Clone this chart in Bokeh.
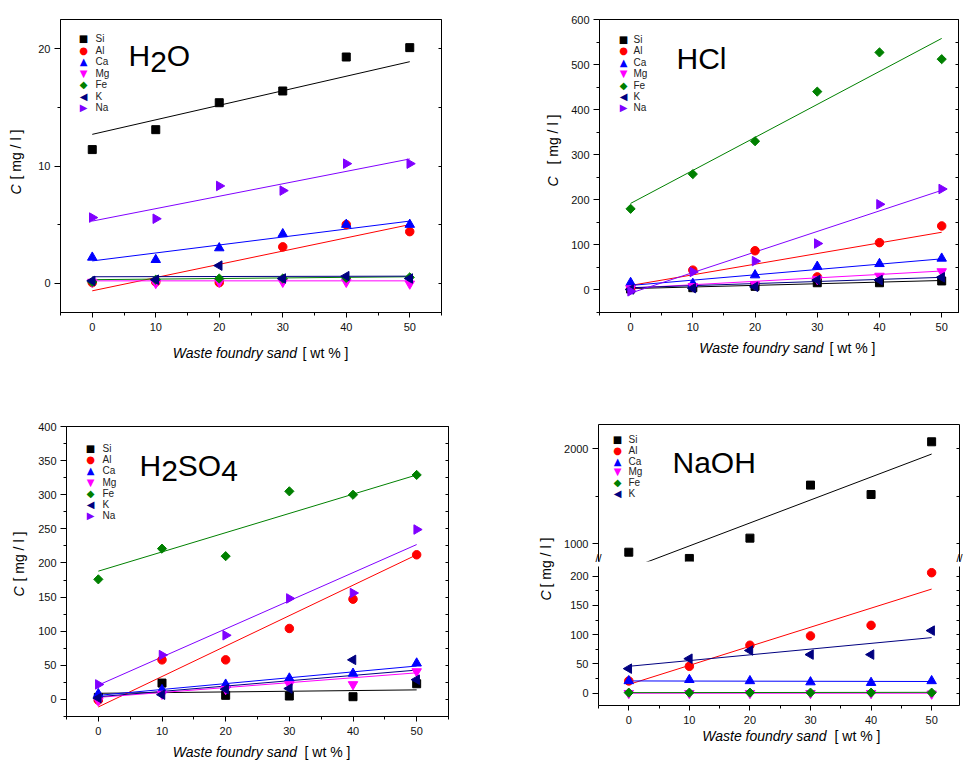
import numpy as np
from bokeh.plotting import figure
from bokeh.models import FixedTicker, LinearAxis, Range1d, Label
from bokeh.layouts import row, column
from bokeh.embed import file_html
from bokeh.resources import INLINE

FONT = "Liberation Sans"

# ---------------- data ----------------
wfs = [0, 10, 20, 30, 40, 50]          # Waste foundry sand [wt %]
fit_x = [0, 50]                         # x of the fitted lines' end points
elements = ["Si", "Al", "Ca", "Mg", "Fe", "K", "Na"]

x_ticks = [0, 10, 20, 30, 40, 50]
x_minor = [-5, 5, 15, 25, 35, 45, 55]

# H2O leachate [mg/l]
h2o = {
    "Si": [11.4, 13.1, 15.4, 16.4, 19.3, 20.1],
    "Al": [0.05, 0.1, 0.05, 3.1, 5.0, 4.4],
    "Ca": [2.2, 2.0, 3.0, 4.2, 5.0, 5.0],
    "Mg": [0.1, 0.0, 0.1, 0.1, 0.1, -0.05],
    "Fe": [0.1, 0.3, 0.4, 0.4, 0.45, 0.5],
    "K":  [0.2, 0.3, 1.5, 0.4, 0.6, 0.4],
    "Na": [5.6, 5.5, 8.3, 7.9, 10.2, 10.2],
}
h2o_fit = {
    "Si": [12.7, 18.9], "Al": [-0.65, 5.0], "Ca": [1.9, 5.3], "Mg": [0.2, 0.2],
    "Fe": [0.3, 0.55], "K": [0.55, 0.6], "Na": [5.3, 10.6],
}
h2o_yticks = [0, 10, 20]
h2o_yminor = [5, 15]

# HCl leachate [mg/l]
hcl = {
    "Si": [2, 5, 8, 16, 16, 20],
    "Al": [4, 44, 87, 29, 105, 142],
    "Ca": [16, 14, 33, 52, 58, 70],
    "Mg": [3, 8, 12, 24, 31, 41],
    "Fe": [180, 257, 330, 440, 527, 512],
    "K":  [1, 4, 7, 22, 22, 28],
    "Na": [-3, 40, 64, 103, 190, 224],
}
hcl_fit = {
    "Si": [3, 21], "Al": [10, 128], "Ca": [10, 69], "Mg": [4, 42],
    "Fe": [192, 558], "K": [5, 28], "Na": [-7, 221],
}
hcl_yticks = [0, 100, 200, 300, 400, 500, 600]
hcl_yminor = [-50, 50, 150, 250, 350, 450, 550]

# H2SO4 leachate [mg/l]
h2so4 = {
    "Si": [3, 24, 6, 5, 4, 23],
    "Al": [-1, 58, 58, 104, 147, 212],
    "Ca": [8, 14, 22, 31, 38, 53],
    "Mg": [-2, 8, 15, 22, 22, 41],
    "Fe": [176, 221, 210, 305, 300, 329],
    "K":  [2, 7, 15, 16, 58, 29],
    "Na": [22, 65, 94, 148, 156, 249],
}
h2so4_fit = {
    "Si": [9, 14], "Al": [-11, 212], "Ca": [6, 49], "Mg": [3, 39],
    "Fe": [188, 329], "K": [4, 43], "Na": [21, 227],
}
h2so4_yticks = [0, 50, 100, 150, 200, 250, 300, 350, 400]
h2so4_yminor = [-25, 25, 75, 125, 175, 225, 275, 325, 375]

# NaOH leachate [mg/l] (no Na)
naoh = {
    "Si": [912, 846, 1060, 1618, 1519, 2074],
    "Al": [21, 46, 82, 98, 116, 206],
    "Ca": [21, 23, 21, 19, 18, 21],
    "Mg": [0, 0, 0, 0, 0, -1],
    "Fe": [1, 1, 1, 1, 1, 1],
    "K":  [42, 59, 73, 66, 66, 107],
}
naoh_fit = {
    "Si": [736, 1945], "Al": [15, 178], "Ca": [21, 20], "Mg": [0, 0],
    "Fe": [1, 1.5], "K": [46, 95],
}
naoh_up_yticks = [1000, 2000]
naoh_up_yminor = [1500]
naoh_lo_yticks = [0, 50, 100, 150, 200]
naoh_lo_yminor = [25, 75, 125, 175]

# ---------------- styles ----------------
STY = {
    "Si": dict(marker="square", color="#000000", size=8, angle=0.0, sym="\u25A0"),
    "Al": dict(marker="circle", color="#ff0000", size=8.5, angle=0.0, sym="\u25CF"),
    "Ca": dict(marker="triangle", color="#0000ff", size=9.5, angle=0.0, sym="\u25B2"),
    "Mg": dict(marker="inverted_triangle", color="#ff00ff", size=9.5, angle=0.0, sym="\u25BC"),
    "Fe": dict(marker="square", color="#008000", size=6.5, angle=np.pi / 4, sym="\u25C6"),
    "K":  dict(marker="triangle", color="#000080", size=9.5, angle=np.pi / 2, sym="\u25C0"),
    "Na": dict(marker="triangle", color="#8000ff", size=9.5, angle=-np.pi / 2, sym="\u25B6"),
}


def base_fig(fw, fh, xr, yr, left, right, top, bottom, outline=True):
    p = figure(frame_width=fw, frame_height=fh,
               x_range=Range1d(*xr), y_range=Range1d(*yr),
               x_axis_location=None, y_axis_location=None,
               toolbar_location=None, output_backend="svg",
               min_border_left=left, min_border_right=right,
               min_border_top=top, min_border_bottom=bottom)
    p.grid.visible = False
    p.outline_line_color = "black" if outline else None
    p.outline_line_width = 1
    p.background_fill_color = "white"
    p.border_fill_color = "white"
    return p


def blank_fig(fw, h, left=0, right=0):
    return base_fig(fw, h, (0, 1), (0, 1), left, right, 0, 0, outline=False)


def style_axis(ax):
    ax.axis_line_color = "black"
    ax.axis_line_width = 1
    ax.major_tick_line_color = "black"
    ax.minor_tick_line_color = "black"
    ax.major_label_text_font = FONT
    ax.major_label_text_font_size = "11px"
    ax.major_label_text_color = "#111111"


def add_left(p, ticks, minor):
    ax = LinearAxis(ticker=FixedTicker(ticks=ticks, minor_ticks=minor))
    style_axis(ax)
    ax.major_tick_out = 6
    ax.major_tick_in = 0
    ax.minor_tick_out = 3
    ax.minor_tick_in = 0
    ax.major_label_standoff = 4
    p.add_layout(ax, "left")


def add_right(p, ticks, minor):
    # mirror ticks only (no labels): all drawn as inward ticks
    ax = LinearAxis(ticker=FixedTicker(ticks=[], minor_ticks=list(ticks) + list(minor)))
    style_axis(ax)
    ax.major_tick_out = 0
    ax.major_tick_in = 0
    ax.minor_tick_out = 0
    ax.minor_tick_in = 3
    ax.major_label_standoff = 0
    p.add_layout(ax, "right")


def add_bottom(p):
    ax = LinearAxis(ticker=FixedTicker(ticks=x_ticks, minor_ticks=x_minor))
    style_axis(ax)
    ax.major_tick_out = 5
    ax.major_tick_in = 0
    ax.minor_tick_out = 3
    ax.minor_tick_in = 0
    ax.major_label_standoff = 5
    p.add_layout(ax, "below")


def add_top_line(p):
    ax = LinearAxis(ticker=FixedTicker(ticks=[], minor_ticks=[]))
    style_axis(ax)
    ax.major_tick_out = 0
    ax.minor_tick_out = 0
    ax.major_label_standoff = 0
    p.add_layout(ax, "above")


def add_break_marks(p, xl, xr):
    ax = LinearAxis(ticker=FixedTicker(ticks=[xl, xr], minor_ticks=[]))
    style_axis(ax)
    ax.axis_line_color = None
    ax.major_tick_out = 0
    ax.major_tick_in = 0
    ax.minor_tick_out = 0
    ax.major_label_standoff = -10
    ax.major_label_text_font_size = "11px"
    ax.major_label_text_color = "black"
    ax.major_label_overrides = {xl: "//", xr: "//"}
    p.add_layout(ax, "below")


def add_text(p, x, y, text, size, style="normal", angle=0.0, align="left",
             baseline="alphabetic", color="black", font=FONT):
    p.add_layout(Label(x=x, y=y, x_units="screen", y_units="screen", text=text,
                       text_font=font, text_font_size=size, text_font_style=style,
                       angle=angle, text_align=align, text_baseline=baseline,
                       text_color=color))


ADV = {"H": .722, "2": .556, "O": .778, "S": .667, "4": .556, "C": .722,
       "l": .222, "N": .722, "a": .556}


def add_formula(p, x, y, pieces, size=30):
    for text, dy in pieces:
        add_text(p, x, y + dy, text, f"{size}px")
        x += sum(ADV[c] for c in text) * size


def draw_series(p, data, fits, elems):
    for el in elems:
        s = STY[el]
        p.line(fit_x, fits[el], line_color=s["color"], line_width=1)
    for el in elems:
        s = STY[el]
        p.scatter(wfs, data[el], marker=s["marker"], size=s["size"],
                  angle=s["angle"], fill_color=s["color"], line_color=s["color"])


def add_legend(p, fh, elems, sym_x, txt_x, top, step):
    for i, el in enumerate(elems):
        y = fh - top - i * step
        add_text(p, sym_x, y, STY[el]["sym"], "10px", align="center",
                 baseline="middle", color=STY[el]["color"], font="DejaVu Sans")
        add_text(p, txt_x, y, el, "10px", align="left", baseline="middle",
                 color="#222222")


def add_xlabel(p, x_end, x_start, y):
    add_text(p, x_end, y, "Waste foundry sand", "14px", style="italic", align="right")
    add_text(p, x_start, y, "[ wt % ]", "14px", align="left")


def add_ylabel(p, x, c_end, b_start):
    add_text(p, x, c_end, "C", "14px", style="italic", angle=np.pi / 2,
             align="right", baseline="middle")
    add_text(p, x, b_start, "[ mg / l ]", "14px", angle=np.pi / 2,
             align="left", baseline="middle")


# ---------------- panel 1: H2O ----------------
p1 = base_fig(381, 293, (-5, 55), (-2.5, 22.5), 30, 99, 19, 25)
add_left(p1, h2o_yticks, h2o_yminor)
add_right(p1, h2o_yticks, h2o_yminor)
add_bottom(p1)
draw_series(p1, h2o, h2o_fit, elements)
add_legend(p1, 293, elements, 23, 35, 19, 11.5)
add_formula(p1, 68, 257, [("H", 0), ("2", -6), ("O", 0)])
xl1 = blank_fig(381, 63, 30, 99)
add_xlabel(xl1, 236.5, 242, 48)
yl1 = blank_fig(30, 400)
add_ylabel(yl1, 15, 216, 221)

# ---------------- panel 2: HCl ----------------
p2 = base_fig(359, 293, (-5, 52.7), (-50, 600), 34, 5, 19, 25)
add_left(p2, hcl_yticks, hcl_yminor)
add_right(p2, hcl_yticks, hcl_yminor)
add_bottom(p2)
draw_series(p2, hcl, hcl_fit, elements)
add_legend(p2, 293, elements, 24, 34, 20, 11.4)
add_formula(p2, 77, 254, [("HCl", 0)])
xl2 = blank_fig(359, 63, 34, 5)
add_xlabel(xl2, 224, 230, 53)
yl2 = blank_fig(25, 400)
add_ylabel(yl2, 12, 224, 236)

# ---------------- panel 3: H2SO4 ----------------
p3 = base_fig(382, 290, (-5, 55), (-25, 400), 30, 85, 26, 24)
add_left(p3, h2so4_yticks, h2so4_yminor)
add_right(p3, h2so4_yticks, h2so4_yminor)
add_bottom(p3)
draw_series(p3, h2so4, h2so4_fit, elements)
add_legend(p3, 290, elements, 24, 36, 22, 11.2)
add_formula(p3, 73, 251, [("H", 0), ("2", -5), ("SO", 0), ("4", -5)])
xl3 = blank_fig(382, 20, 30, 85)
add_xlabel(xl3, 230.5, 238, 9)
yl3 = blank_fig(35, 360)
add_ylabel(yl3, 18, 174, 179)

# ---------------- panel 4: NaOH (broken axis) ----------------
naoh_el = ["Si", "Al", "Ca", "Mg", "Fe", "K"]
p4u = base_fig(361, 137, (-5, 54.6), (814, 2256), 37, 5, 24, 5, outline=False)
add_left(p4u, naoh_up_yticks, naoh_up_yminor)
add_right(p4u, naoh_up_yticks, naoh_up_yminor)
add_top_line(p4u)
add_break_marks(p4u, -5, 54.6)
draw_series(p4u, naoh, naoh_fit, naoh_el)
add_legend(p4u, 137, naoh_el, 19, 30, 15, 10.8)
add_formula(p4u, 74, 99, [("NaOH", 0)])

p4l = base_fig(361, 139, (-5, 54.6), (-21, 216.6), 37, 5, 0, 23, outline=False)
add_left(p4l, naoh_lo_yticks, naoh_lo_yminor)
add_right(p4l, naoh_lo_yticks, naoh_lo_yminor)
add_bottom(p4l)
draw_series(p4l, naoh, naoh_fit, naoh_el)
xl4 = blank_fig(361, 32, 37, 5)
add_xlabel(xl4, 228, 236, 25)
yl4 = blank_fig(28, 360)
add_ylabel(yl4, 12, 170, 173)

layout = column(
    row(yl1, column(p1, xl1), yl2, column(p2, xl2)),
    row(yl3, column(p3, xl3), yl4, column(p4u, p4l, xl4)),
)

open("out.html", "w").write(file_html(layout, INLINE))
